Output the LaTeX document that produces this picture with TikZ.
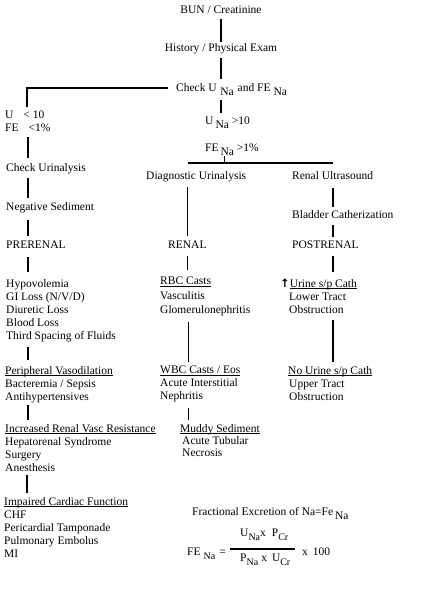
\documentclass[tikz,border=0pt]{standalone}
\usepackage{fontspec}
\setmainfont{Liberation Serif}
\newfontfamily\dvs{DejaVu Sans}
\newcommand\sbs[1]{\raisebox{-4pt}{#1}}
\newcommand\fsb[1]{\raisebox{-4pt}{\fontsize{10}{10}\selectfont #1}}
\newcommand\ulx[1]{\leavevmode\setbox0\hbox{#1}\rlap{\rule[-1.3pt]{\wd0}{0.6pt}}\box0}
\begin{document}
\begin{tikzpicture}[x=1pt,y=-1pt,
  every node/.style={inner sep=0pt, font=\fontsize{11.5}{13}\selectfont},
  one/.style={text height=8pt, text depth=2.5pt, anchor=base west},
  onec/.style={text height=8pt, text depth=2.5pt, anchor=base},
  blk/.style={align=left, anchor=north west},
  wide/.style={font=\fontsize{11.5}{14.3}\selectfont},
  thk/.style={line width=2pt},
  thn/.style={line width=1pt},
  hl/.style={line width=1.5pt}]
\useasboundingbox (0,0) rectangle (435,602);
% column coordinates
\coordinate (colL) at (28,0);
\coordinate (colC) at (221,0);
\coordinate (colM) at (187.5,0);
\coordinate (colR) at (332.5,0);
\coordinate (hk) at (27,88);
\coordinate (brc) at (224.5,163);
\coordinate (brl) at (187.5,163);
\coordinate (brr) at (333,163);
% top
\node[onec] (bun) at (221,14) {BUN / Creatinine};
\node[onec] (hist) at (221,52) {History / Physical Exam};
\node[one, text depth=6pt] (check) at (176,92) {Check U\hspace{3.5pt}\sbs{Na}\hspace{4pt}and FE\hspace{3pt}\sbs{Na}};
\node[one, text depth=6pt] (una) at (205,124) {U\hspace{2pt}\sbs{Na} >10};
\node[one, text depth=5pt] (fe1) at (205,151) {FE\hspace{2pt}\sbs{Na} >1\%};
\node[blk] (ulow) at (5,111) {U\hspace{10pt}< 10\\FE\hspace{10pt}<1\%};
% left column
\node[one] (cu) at (6,171) {Check Urinalysis};
\node[one] (neg) at (6,210) {Negative Sediment};
\node[one] (pre) at (6,248) {PRERENAL};
\node[blk] (hypo) at (6,279) {Hypovolemia\\GI Loss (N/V/D)\\Diuretic Loss\\Blood Loss\\Third Spacing of Fluids};
\node[blk] (peri) at (5,366) {\ulx{Peripheral Vasodilation}\\Bacteremia / Sepsis\\Antihypertensives};
\node[blk] (incr) at (5,424) {\ulx{Increased Renal Vasc Resistance}\\Hepatorenal Syndrome\\Surgery\\Anesthesis};
\node[blk] (card) at (4,497) {\ulx{Impaired Cardiac Function}\\CHF\\Pericardial Tamponade\\Pulmonary Embolus\\MI};
% middle column
\node[one] (diag) at (146,179) {Diagnostic Urinalysis};
\node[one] (renal) at (168,248) {RENAL};
\node[blk, wide] (rbc) at (160,277) {\ulx{RBC Casts}\\Vasculitis\\Glomerulonephritis};
\node[blk] (wbc) at (160,366) {\ulx{WBC Casts / Eos}\\Acute Interstitial\\Nephritis};
\node[blk, font=\fontsize{11.5}{12}\selectfont] (mud) at (180,424) {\ulx{Muddy Sediment}\\\hspace{2pt}Acute Tubular\\\hspace{2pt}Necrosis};
% right column
\node[one] (rus) at (292,179) {Renal Ultrasound};
\node[one] (blad) at (292,218) {Bladder Catherization};
\node[one] (post) at (292,248) {POSTRENAL};
\node[blk] (up) at (280,279) {{\dvs\bfseries ↑}\ulx{Urine s/p Cath}\\\hspace{9pt}Lower Tract\\\hspace{9pt}Obstruction};
\node[blk] (nour) at (288,366) {\ulx{No Urine s/p Cath}\\\hspace{1pt}Upper Tract\\\hspace{1pt}Obstruction};
% formula
\node[one] (fract) at (192,515) {Fractional Excretion of Na=Fe\hspace{2pt}\sbs{Na}};
\node[one] (fe2) at (187,555) {FE\hspace{3pt}\fsb{Na}\hspace{4pt}=};
\node[one] (num) at (240,536) {U\fsb{Na}x\hspace{6pt}P\fsb{Cr}};
\node[one] (den) at (240,561) {P\fsb{Na}\hspace{3pt}x\hspace{5pt}U\fsb{Cr}};
\node[one] (x100) at (302,555) {x\hspace{5pt}100};
\coordinate (barl) at (230,549);
\coordinate (barr) at (295,549);
\draw[line width=1.3pt] (barl) -- (barr);
% connectors
\draw[thk, shorten <=2.5pt, shorten >=2pt] (bun.south) -- (hist.north);
\draw[thk, shorten <=3.5pt, shorten >=5pt] (hist.south) -- (check.north -| colC);
\draw[thk, shorten <=2pt, shorten >=3pt] (check.south -| colC) -- (una.north -| colC);
\draw[hl, shorten <=8pt, shorten >=4pt] (check.west |- hk) -- (hk) -- (ulow.north -| hk);
\draw[thk, shorten <=4.5pt, shorten >=5pt] (ulow.south -| colL) -- (cu.north -| colL);
\draw[thk, shorten <=4.5pt, shorten >=4pt] (cu.south -| colL) -- (neg.north -| colL);
\draw[thk, shorten <=7pt, shorten >=4pt] (neg.south -| colL) -- (pre.north -| colL);
\draw[thk, shorten <=6.5pt, shorten >=7pt] (pre.south -| colL) -- (hypo.north -| colL);
\draw[thk, shorten <=5.5pt, shorten >=6pt] (hypo.south -| colL) -- (peri.north -| colL);
\draw[thk, shorten <=2.5pt, shorten >=4pt] (peri.south -| colL) -- (incr.north -| colL);
\draw[thk, shorten <=4pt, shorten >=4pt] (incr.south -| hk) -- (card.north -| hk);
\draw[thn] (fe1.south -| brc) -- (brc);
\draw[line width=1.3pt] (brl) -- (brr);
\draw[thn, shorten <=5.5pt, shorten >=4pt] (diag.south -| colM) -- (renal.north -| colM);
\draw[thn, shorten <=5.5pt, shorten >=7pt] (renal.south -| colM) -- (rbc.north -| colM);
\draw[thn, shorten <=5.5pt, shorten >=4pt] ([xshift=0.5pt]rbc.south -| colM) -- ([xshift=0.5pt]wbc.north -| colM);
\draw[thn, shorten <=5.5pt, shorten >=4pt] ([xshift=0.5pt]wbc.south -| colM) -- ([xshift=0.5pt]mud.north -| colM);
\draw[thk, shorten <=6.5pt, shorten >=3pt] (rus.south -| colR) -- (blad.north -| colR);
\draw[thk, shorten <=4.5pt, shorten >=3pt] (blad.south -| colR) -- (post.north -| colR);
\draw[thk, shorten <=5pt, shorten >=7pt] (post.south -| colR) -- (up.north -| colR);
\draw[thk, shorten <=6pt, shorten >=4pt] (up.south -| colR) -- (nour.north -| colR);
\end{tikzpicture}
\end{document}
